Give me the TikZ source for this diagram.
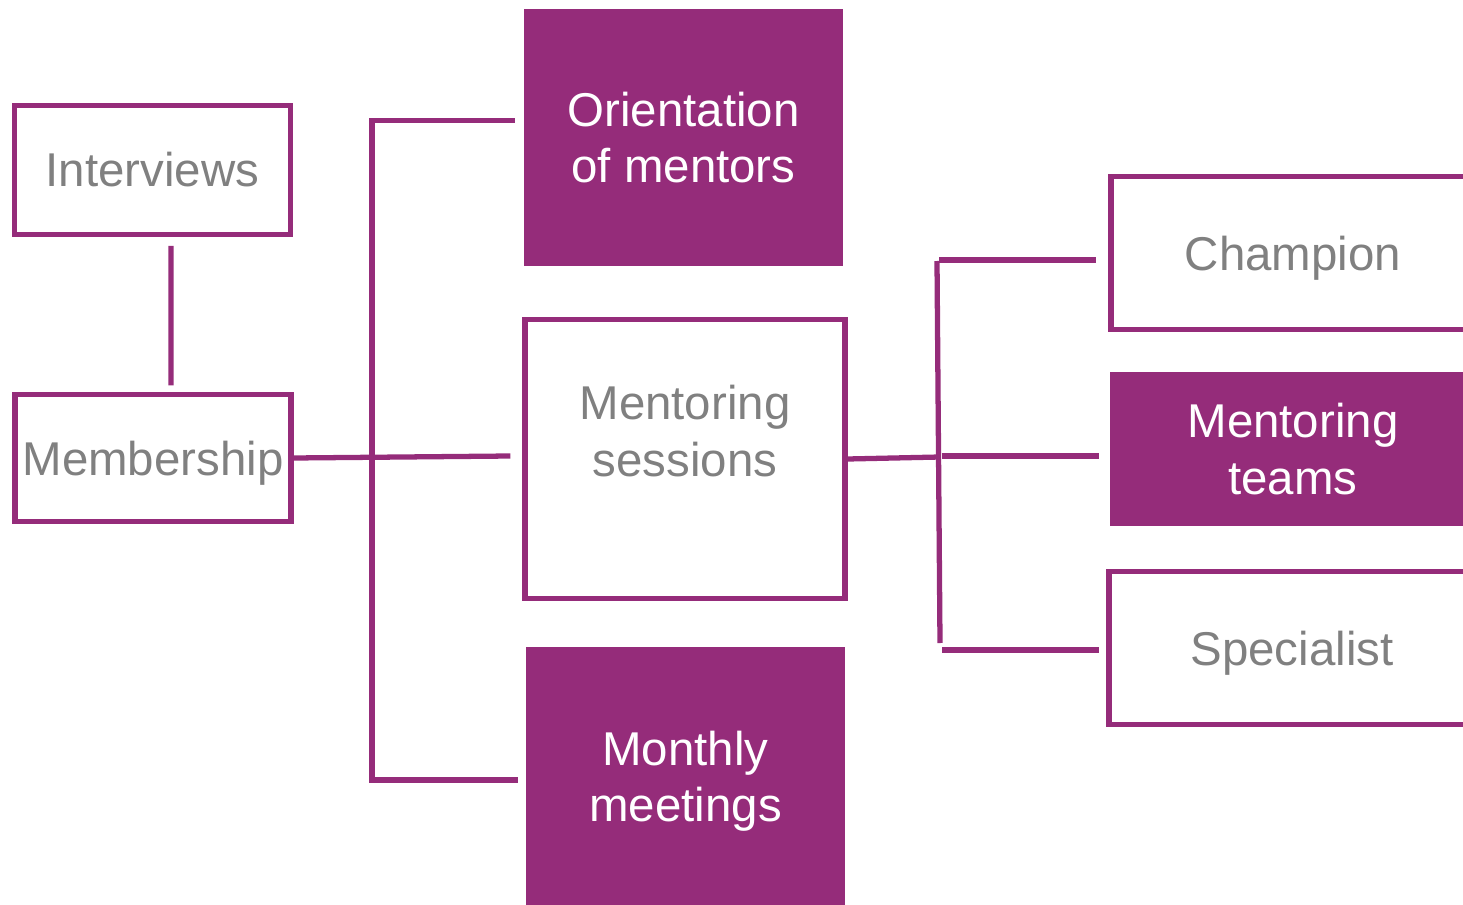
\documentclass[tikz,border=0pt]{standalone}
\usepackage{fontspec}
\setmainfont{Liberation Sans}
\usepackage{tikz}
\usetikzlibrary{positioning}
\definecolor{mpurple}{RGB}{149,44,122}
\definecolor{tgray}{RGB}{128,128,128}

\begin{document}
\begin{tikzpicture}[x=0.02cm,y=-0.02cm,
    openbox/.style={rectangle,draw=mpurple,line width=3pt,fill=white,text=tgray,align=center,inner sep=0pt,
      font=\fontsize{27}{32}\selectfont},
    fullbox/.style={rectangle,fill=mpurple,text=white,align=center,inner sep=0pt,
      font=\fontsize{27}{32}\selectfont},
    flat/.style={text depth=0pt},
    link/.style={draw=mpurple,line width=3pt}]
    \useasboundingbox (0,0) rectangle (1463,905);

    % left column
    \node[openbox,minimum width=5.52cm,minimum height=2.58cm] (int) at (152.5,170) {Interviews};
    \node[openbox,flat,minimum width=5.52cm,minimum height=2.54cm] (mem) at (153,458) {Membership};

    % middle column
    \node[fullbox,minimum width=6.38cm,minimum height=5.14cm] (ori) at (683.5,137.5) {Orientation\\of mentors};
    \node[openbox,minimum width=6.4cm,minimum height=5.58cm] (ses) at (685,459) {Mentoring\\sessions\\\mbox{}};
    \node[fullbox,minimum width=6.38cm,minimum height=5.16cm] (mon) at (685.5,776) {Monthly\\\smash{meetings}};

    % right column (runs past the edge)
    \node[openbox,flat,minimum width=7.28cm,minimum height=3.06cm] (cha) at (1293,253) {Champion};
    \node[fullbox,minimum width=7.32cm,minimum height=3.08cm] (tea) at (1293,449) {Mentoring\\teams};
    \node[openbox,flat,minimum width=7.32cm,minimum height=3.06cm] (spe) at (1292,648) {Specialist};

    \coordinate (bl) at (372,456);
    \coordinate (br) at (940,457);
    \coordinate (brt) at (937,261);
    \coordinate (brb) at (940,643);

    \draw[link] ([shift={(18.5,8.7)}]int.south) -- ([shift={(18,-6.6)}]mem.north);
    \draw[link] (mem.east) -- ([shift={(-12,-3)}]ses.west);
    \draw[link] ([shift={(-9,-17)}]ori.west) -| (bl) |- ([shift={(-8,4)}]mon.west);

    \draw[link] (ses.east) -- (br);
    \draw[link] (brt) -- (brb);
    \foreach \n/\dy/\len/\gap in {cha/7/169/12,tea/7/168/11,spe/2/164/7}
      \draw[link] ([shift={(-\len,\dy)}]\n.west) -- ([shift={(-\gap,\dy)}]\n.west);

\end{tikzpicture}
\end{document}
